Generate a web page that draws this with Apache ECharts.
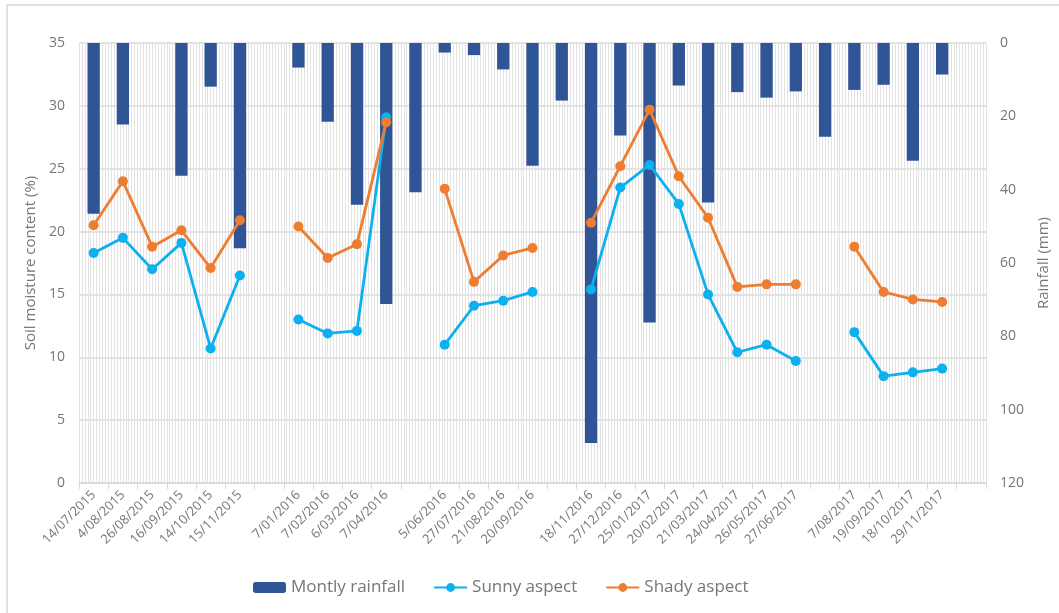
<!DOCTYPE html>
<html>
<head>
    <meta charset="UTF-8">
    <title>Soil moisture and rainfall</title>
    <script src="https://cdn.jsdelivr.net/npm/echarts@6/dist/echarts.min.js"></script>
    <style>
        html, body { margin: 0; padding: 0; background: #fff; }
        #main { width: 1059px; height: 613px; }
    </style>
</head>
<body>
    <div id="main"></div>
    <script type="text/javascript">
        // sampling dates (blank = month with rainfall but no soil sample)
        var dates = ['14/07/2015', '4/08/2015', '26/08/2015', '16/09/2015', '14/10/2015', '15/11/2015', '',
            '7/01/2016', '7/02/2016', '6/03/2016', '7/04/2016', '',
            '5/06/2016', '27/07/2016', '21/08/2016', '20/09/2016', '',
            '18/11/2016', '27/12/2016', '25/01/2017', '20/02/2017', '21/03/2017', '24/04/2017', '26/05/2017', '27/06/2017', '',
            '7/08/2017', '19/09/2017', '18/10/2017', '29/11/2017', ''];

        var rainfall = [46.6, 22.2, null, 36.2, 11.9, 56.0, null,
            6.7, 21.5, 44.1, 71.2, 40.7,
            2.6, 3.3, 7.2, 33.5, 15.7,
            109.1, 25.2, 76.2, 11.6, 43.5, 13.4, 14.9, 13.2, 25.6,
            12.8, 11.4, 32.1, 8.6, null];

        var sunny = [18.3, 19.5, 17.0, 19.1, 10.7, 16.5, null,
            13.0, 11.9, 12.1, 29.1, null,
            11.0, 14.1, 14.5, 15.2, null,
            15.4, 23.5, 25.3, 22.2, 15.0, 10.4, 11.0, 9.7, null,
            12.0, 8.5, 8.8, 9.1, null];

        var shady = [20.5, 24.0, 18.8, 20.1, 17.1, 20.9, null,
            20.4, 17.9, 19.0, 28.7, null,
            23.4, 16.0, 18.1, 18.7, null,
            20.7, 25.2, 29.7, 24.4, 21.1, 15.6, 15.8, 15.8, null,
            18.8, 15.2, 14.6, 14.4, null];

        var textColor = '#767676';
        var gridColor = '#d9d9d9';
        var font = 'Open Sans';

        var myChart = echarts.init(document.getElementById('main'));

        myChart.setOption({
            animation: false,
            textStyle: { fontFamily: font },
            graphic: [{
                type: 'rect',
                shape: { x: 7, y: 5, width: 1100, height: 700 },
                style: { fill: 'none', stroke: gridColor, lineWidth: 1.5 },
                z: -10
            }],
            grid: { left: 79, right: 72, top: 43, bottom: 130 },
            legend: {
                bottom: 12,
                left: 248,
                itemGap: 28,
                itemWidth: 33,
                itemHeight: 11,
                textStyle: { color: textColor, fontSize: 17, fontFamily: font },
                data: ['Montly rainfall', 'Sunny aspect', 'Shady aspect']
            },
            xAxis: [{
                type: 'category',
                data: dates,
                boundaryGap: true,
                axisLine: { lineStyle: { color: gridColor, width: 1.5 } },
                axisTick: { show: true, length: 6, interval: 0, lineStyle: { color: gridColor } },
                axisLabel: { interval: 0, rotate: 45, color: textColor, fontSize: 13, margin: 10 },
                splitLine: { show: false }
            }, {
                // hidden value axis only for the dense vertical gridlines
                type: 'value',
                min: 0,
                max: 31,
                interval: 1,
                position: 'bottom',
                axisLine: { show: false },
                axisTick: { show: false },
                axisLabel: { show: false },
                splitLine: { show: true, lineStyle: { color: '#e3e3e3', width: 1 } },
                minorTick: { show: false, splitNumber: 10 },
                minorSplitLine: { show: true, lineStyle: { color: '#e3e3e3', width: 1 } }
            }],
            yAxis: [{
                type: 'value',
                min: 0,
                max: 35,
                interval: 5,
                name: 'Soil moisture content (%)',
                nameLocation: 'middle',
                nameGap: 40,
                nameTextStyle: { color: textColor, fontSize: 15 },
                axisLine: { show: false },
                axisTick: { show: false },
                axisLabel: { color: textColor, fontSize: 14, margin: 14 },
                splitLine: { lineStyle: { color: gridColor, width: 1.5 } }
            }, {
                type: 'value',
                min: 0,
                max: 120,
                interval: 20,
                inverse: true,
                position: 'right',
                name: 'Rainfall (mm)',
                nameLocation: 'middle',
                nameGap: 50,
                nameTextStyle: { color: textColor, fontSize: 15 },
                axisLine: { show: false },
                axisTick: { show: false },
                axisLabel: { color: textColor, fontSize: 14, margin: 14 },
                splitLine: { show: false }
            }],
            series: [{
                name: 'Montly rainfall',
                type: 'bar',
                yAxisIndex: 1,
                data: rainfall,
                barWidth: '42%',
                itemStyle: { color: '#2f5597' }
            }, {
                name: 'Sunny aspect',
                type: 'line',
                data: sunny,
                connectNulls: false,
                symbol: 'circle',
                symbolSize: 10,
                lineStyle: { color: '#0db0ee', width: 2.8 },
                itemStyle: { color: '#0db0ee' }
            }, {
                name: 'Shady aspect',
                type: 'line',
                data: shady,
                connectNulls: false,
                symbol: 'circle',
                symbolSize: 10,
                lineStyle: { color: '#ed7d31', width: 2.8 },
                itemStyle: { color: '#ed7d31' }
            }]
        });
    </script>
</body>
</html>
